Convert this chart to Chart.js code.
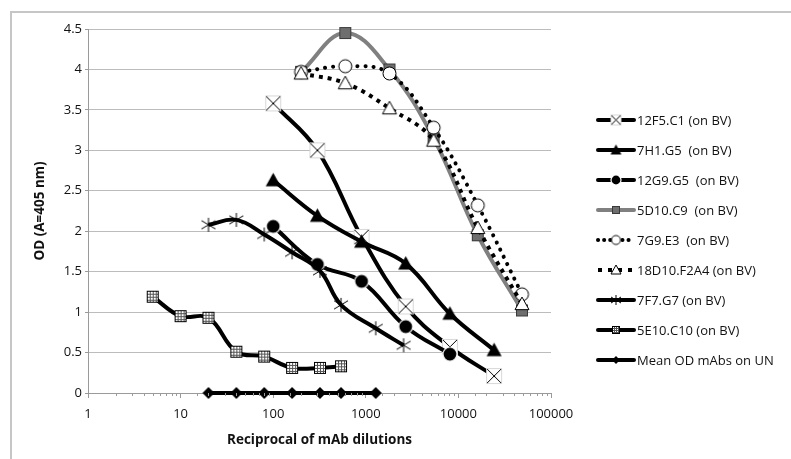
<!DOCTYPE html>
<html>
<head>
<meta charset="utf-8">
<script src="https://cdn.jsdelivr.net/npm/chart.js@4.4.0/dist/chart.umd.min.js"></script>
<style>
  html, body { margin: 0; padding: 0; background: #fff; }
  #wrap { position: relative; width: 791px; height: 459px; overflow: hidden; }
  #frame { position: absolute; left: 10px; top: 11px; right: -4px; bottom: -4px;
           border-top: 2px solid #c6c6c6; border-left: 2px solid #c6c6c6; }
  #c { position: absolute; left: 0; top: 0; }
</style>
</head>
<body>
<div id="wrap">
  <div id="frame"></div>
  <canvas id="c" width="791" height="459"></canvas>
</div>
<script>
// dilution series (reciprocal of mAb dilution)
const dil100 = [100, 300, 900, 2700, 8100, 24300];
const dil200 = [200, 600, 1800, 5400, 16200, 48600];
const dil20 = [20, 40, 80, 160, 320, 540, 1280, 2560];
const dil5 = [5, 10, 20, 40, 80, 160, 320, 540];
const dilUN = [20, 40, 80, 160, 320, 540, 1280];

// OD values
const od12F5 = [3.58, 3.0, 1.93, 1.07, 0.57, 0.21];
const od7H1 = [2.63, 2.19, 1.87, 1.60, 0.98, 0.53];
const od12G9 = [2.06, 1.59, 1.38, 0.82, 0.48];
const od5D10 = [3.97, 4.45, 4.0, 3.15, 1.95, 1.02];
const od7G9 = [3.97, 4.04, 3.95, 3.28, 2.32, 1.22];
const od18D10 = [3.95, 3.83, 3.52, 3.12, 2.04, 1.10];
const od7F7 = [2.08, 2.14, 1.96, 1.74, 1.51, 1.09, 0.80, 0.59];
const od5E10 = [1.19, 0.95, 0.93, 0.51, 0.45, 0.31, 0.31, 0.33];
const odUN = [0, 0, 0, 0, 0, 0, 0];

const seriesNames = [
  '12F5.C1 (on BV)', '7H1.G5  (on BV)', '12G9.G5  (on BV)', '5D10.C9  (on BV)',
  '7G9.E3  (on BV)', '18D10.F2A4 (on BV)', '7F7.G7 (on BV)', '5E10.C10 (on BV)',
  'Mean OD mAbs on UN'
];
const xLabelTicks = [1, 10, 100, 1000, 10000, 100000];

// little marker drawings, used as point styles
function marker(kind, s) {
  const pad = 2;
  const c = document.createElement('canvas');
  c.width = c.height = s + pad * 2;
  const g = c.getContext('2d');
  const m = c.width / 2, h = s / 2;
  g.lineWidth = 1;
  g.strokeStyle = '#000';
  g.fillStyle = '#fff';
  const tri = () => {
    g.beginPath();
    g.moveTo(m, m - h);
    g.lineTo(m + h, m + h * 0.8);
    g.lineTo(m - h, m + h * 0.8);
    g.closePath();
  };
  switch (kind) {
    case 'xbox':
      g.fillRect(m - h, m - h, s, s);
      g.strokeStyle = '#d8d8d8';
      g.strokeRect(m - h + 0.5, m - h + 0.5, s - 1, s - 1);
      g.strokeStyle = '#000';
      g.beginPath();
      g.moveTo(m - h + 1, m - h + 1); g.lineTo(m + h - 1, m + h - 1);
      g.moveTo(m + h - 1, m - h + 1); g.lineTo(m - h + 1, m + h - 1);
      g.stroke();
      break;
    case 'tri':
      tri(); g.fillStyle = '#000'; g.fill();
      break;
    case 'otri':
      tri(); g.fill(); g.stroke();
      break;
    case 'dot':
      g.beginPath(); g.arc(m, m, h, 0, Math.PI * 2);
      g.fillStyle = '#000'; g.fill();
      g.strokeStyle = '#fff'; g.lineWidth = 1.2; g.stroke();
      break;
    case 'ocirc':
      g.beginPath(); g.arc(m, m, h, 0, Math.PI * 2);
      g.fill(); g.stroke();
      break;
    case 'gsq':
      g.fillStyle = '#6e6e6e';
      g.fillRect(m - h, m - h, s, s);
      g.strokeStyle = '#3a3a3a';
      g.strokeRect(m - h + 0.5, m - h + 0.5, s - 1, s - 1);
      break;
    case 'star':
      g.beginPath();
      g.moveTo(m - h, m - h * 0.6); g.lineTo(m + h, m + h * 0.6);
      g.moveTo(m + h, m - h * 0.6); g.lineTo(m - h, m + h * 0.6);
      g.moveTo(m, m - h); g.lineTo(m, m + h);
      g.stroke();
      break;
    case 'grid': {
      g.fillRect(m - h, m - h, s, s);
      g.strokeRect(m - h + 0.5, m - h + 0.5, s - 1, s - 1);
      g.beginPath();
      for (let k = 1; k < 4; k++) {
        const p = Math.round(m - h + k * s / 4) + 0.5;
        g.moveTo(p, m - h + 1); g.lineTo(p, m + h - 1);
        g.moveTo(m - h + 1, p); g.lineTo(m + h - 1, p);
      }
      g.strokeStyle = '#555';
      g.stroke();
      break;
    }
    case 'diam':
      g.beginPath();
      g.moveTo(m, m - h); g.lineTo(m + h, m); g.lineTo(m, m + h); g.lineTo(m - h, m);
      g.closePath(); g.fillStyle = '#000'; g.fill();
      break;
  }
  return c;
}

const pts = (xs, ys) => ys.map((y, i) => ({ x: xs[i], y }));

function series(i, xs, ys, kind, size, color, dash, cap) {
  return {
    label: seriesNames[i],
    data: pts(xs, ys),
    order: 20 - i, // later series drawn on top, like the spreadsheet
    borderColor: color,
    backgroundColor: color,
    borderWidth: 4,
    borderDash: dash || [],
    borderCapStyle: cap || 'butt',
    borderJoinStyle: 'round',
    tension: 0.4,
    pointStyle: marker(kind, size),
    pointRadius: 6,
    clip: false,
    legendMarker: marker(kind, Math.round(size * 0.7))
  };
}

const datasets = [
  series(0, dil100, od12F5, 'xbox', 16, '#000'),
  series(1, dil100, od7H1, 'tri', 15, '#000'),
  series(2, dil100, od12G9, 'dot', 14, '#000'),
  series(3, dil200, od5D10, 'gsq', 12, '#808080'),
  series(4, dil200, od7G9, 'ocirc', 13, '#000', [0.1, 8], 'round'),
  series(5, dil200, od18D10, 'otri', 14, '#000', [4, 5]),
  series(6, dil20, od7F7, 'star', 14, '#000'),
  series(7, dil5, od5E10, 'grid', 12, '#000'),
  series(8, dilUN, odUN, 'diam', 12, '#000')
];

const minorTicks = {
  id: 'minorTicks',
  afterDraw(chart) {
    const xs = chart.scales.x, ctx = chart.ctx;
    ctx.save();
    ctx.strokeStyle = '#9a9a9a';
    ctx.lineWidth = 1;
    xs.ticks.forEach(t => {
      if (xLabelTicks.includes(t.value)) return;
      const px = Math.round(xs.getPixelForValue(t.value)) + 0.5;
      ctx.beginPath();
      ctx.moveTo(px, xs.top);
      ctx.lineTo(px, xs.top + 3);
      ctx.stroke();
    });
    ctx.restore();
  }
};

const sideLegend = {
  id: 'sideLegend',
  afterDraw(chart) {
    const ctx = chart.ctx;
    ctx.save();
    ctx.font = '13px "Open Sans"';
    ctx.textBaseline = 'middle';
    ctx.fillStyle = '#111';
    chart.data.datasets.forEach((ds, i) => {
      const y = 120 + i * 30;
      ctx.strokeStyle = ds.borderColor;
      ctx.lineWidth = 4;
      ctx.setLineDash(ds.borderDash.length ? [ds.borderDash[0], 6] : []);
      ctx.lineCap = ds.borderDash.length ? ds.borderCapStyle : 'round';
      ctx.beginPath();
      ctx.moveTo(598, y);
      ctx.lineTo(634, y);
      ctx.stroke();
      ctx.setLineDash([]);
      const mk = ds.legendMarker;
      ctx.drawImage(mk, 616 - mk.width / 2, y - mk.height / 2);
      ctx.fillText(ds.label, 637, y + 1);
    });
    ctx.restore();
  }
};

Chart.defaults.font.family = '"Open Sans", sans-serif';
Chart.defaults.font.size = 13;
Chart.defaults.color = '#111';

new Chart(document.getElementById('c'), {
  type: 'line',
  data: { datasets },
  options: {
    responsive: false,
    animation: false,
    events: [],
    layout: { padding: { left: 0, right: 240, top: 29, bottom: 0 } },
    plugins: { legend: { display: false }, tooltip: { enabled: false } },
    scales: {
      x: {
        type: 'logarithmic',
        min: 1,
        max: 100000,
        afterFit: s => { s.height = 66; },
        border: { color: '#9a9a9a', width: 1 },
        grid: {
          drawOnChartArea: false,
          tickLength: 5,
          tickColor: c => (c.tick && xLabelTicks.includes(c.tick.value)) ? '#9a9a9a' : 'rgba(0,0,0,0)'
        },
        ticks: {
          autoSkip: false,
          maxRotation: 0,
          padding: 8,
          callback: v => xLabelTicks.includes(v) ? String(v) : ''
        },
        title: {
          display: true,
          text: 'Reciprocal of mAb dilutions',
          font: { size: 13.5, weight: 'bold' },
          padding: { top: 0, bottom: 11 }
        }
      },
      y: {
        min: 0,
        max: 4.5,
        afterFit: s => { s.width = 88; },
        border: { color: '#9a9a9a', width: 1 },
        grid: { color: '#bcbcbc', tickColor: '#9a9a9a', tickLength: 3 },
        ticks: { stepSize: 0.5, padding: 3, callback: v => String(v) },
        title: {
          display: true,
          text: 'OD (A=405 nm)',
          font: { size: 13.5, weight: 'bold' },
          padding: { top: 32, bottom: 0 }
        }
      }
    }
  },
  plugins: [minorTicks, sideLegend]
});
</script>
</body>
</html>
